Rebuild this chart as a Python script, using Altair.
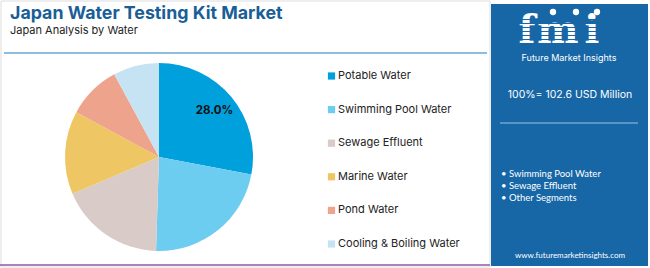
import altair as alt
import pandas as pd

categories = ["Potable Water", "Swimming Pool Water", "Sewage Effluent",
              "Marine Water", "Pond Water", "Cooling & Boiling Water"]
shares = [28.0, 22.5, 18.1, 14.3, 9.2, 7.9]
colors = ["#00a0dc", "#6dcdf1", "#d8cbc8", "#efc664", "#eea48c", "#c6e3f3"]
highlights = ["Swimming Pool Water", "Sewage Effluent", "Other Segments"]
total_text = "100%= 102.6 USD Million"

df = pd.DataFrame({"cat": categories, "share": shares, "idx": list(range(len(categories)))})
df["label"] = [f"{v:.1f}%" if i == 0 else "" for i, v in enumerate(shares)]

color_scale = alt.Scale(domain=categories, range=colors)
FONT = "Inter"
PANEL = "#1766a6"

base = alt.Chart(df)
one = pd.DataFrame({"a": [0]})

# frame & decorations
frame = alt.Chart(one).mark_rect(
    fill="white", stroke="#dddddd", strokeWidth=1
).encode(x=alt.value(1), x2=alt.value(490), y=alt.value(1), y2=alt.value(267))

sep = alt.Chart(one).mark_rule(
    color="#8fbde0", strokeWidth=2
).encode(x=alt.value(4), x2=alt.value(487), y=alt.value(53))

bottom = alt.Chart(one).mark_rule(
    color="#8e5aa0", strokeWidth=1.5
).encode(x=alt.value(0), x2=alt.value(490), y=alt.value(265))

panel = alt.Chart(one).mark_rect(
    fill=PANEL
).encode(x=alt.value(491), x2=alt.value(648), y=alt.value(4), y2=alt.value(266))

panel_rule = alt.Chart(one).mark_rule(
    color="#9cc3e6", strokeWidth=1
).encode(x=alt.value(500), x2=alt.value(638), y=alt.value(123))

def txt(s, x, y, size, color, weight="normal", align="left", font=FONT, baseline="middle"):
    return alt.Chart(pd.DataFrame({"t": [s]})).mark_text(
        align=align, baseline=baseline, fontSize=size, fontWeight=weight,
        color=color, font=font
    ).encode(text="t:N", x=alt.value(x), y=alt.value(y))

title = txt("Japan Water Testing Kit Market", 10, 14, 17.8, "#1a5e97", "bold")
subtitle = txt("Japan Analysis by Water", 10, 31, 11, "#222222")

# pie
pie = base.mark_arc(radius=94, stroke=None).encode(
    theta=alt.Theta("share:Q", stack=True),
    color=alt.Color("cat:N", scale=color_scale, legend=None),
    order=alt.Order("idx:Q"),
    x=alt.value(159), y=alt.value(157),
)
pie_label = base.mark_text(radius=72, fontSize=11.5, fontWeight="bold",
                           color="#111111", font=FONT).encode(
    theta=alt.Theta("share:Q", stack=True),
    order=alt.Order("idx:Q"),
    text="label:N",
    x=alt.value(159), y=alt.value(157),
)

# legend
ypos = alt.Y("cat:N", sort=categories,
             scale=alt.Scale(type="point", range=[76, 244], padding=0), axis=None)
leg_sq = base.mark_square(size=52, opacity=1).encode(
    x=alt.value(331.5), y=ypos,
    color=alt.Color("cat:N", scale=color_scale, legend=None),
)
leg_tx = base.mark_text(align="left", baseline="middle", fontSize=11,
                        color="#222222", font=FONT).encode(
    x=alt.value(338), y=ypos, text="cat:N"
)

# right panel: logo
logo = [txt(ch, xx, 43, 39, "white", "bold", "center", "DejaVu Serif", "alphabetic")
        for ch, xx in [("f", 527), ("m", 558), ("i", 592)]]
stripes = [alt.Chart(one).mark_rule(color=PANEL, strokeWidth=1).encode(
    x=alt.value(510), x2=alt.value(620), y=alt.value(yy))
    for yy in [19.5, 23.5, 27.5, 31.5, 35.5, 39.5]]
dots = [alt.Chart(one).mark_circle(color="white", opacity=1, size=40).encode(
    x=alt.value(xx), y=alt.value(12)) for xx in [553, 576, 597]]
fmi_sub = txt("Future Market Insights", 569, 58, 9, "white", "normal", "center")
total = txt(total_text, 570, 95, 10.5, "white", "normal", "center")
hl = [txt("\u2022 " + h, 501, y, 9.5, "white", "normal", "left", "Lato")
      for h, y in zip(highlights, [174, 185.5, 198])]
url = txt("www.futuremarketinsights.com", 570, 256, 8, "white", "normal", "center", "Lato")

chart = alt.layer(
    frame, sep, bottom, panel, panel_rule, title, subtitle,
    pie, pie_label, leg_sq, leg_tx,
    *logo, *stripes, *dots, fmi_sub, total, *hl, url
).properties(
    width=650, height=268, autosize="none", padding=0, background="white"
).configure_view(stroke=None)

chart.save("out.html", embed_options={"renderer": "svg", "actions": False})
